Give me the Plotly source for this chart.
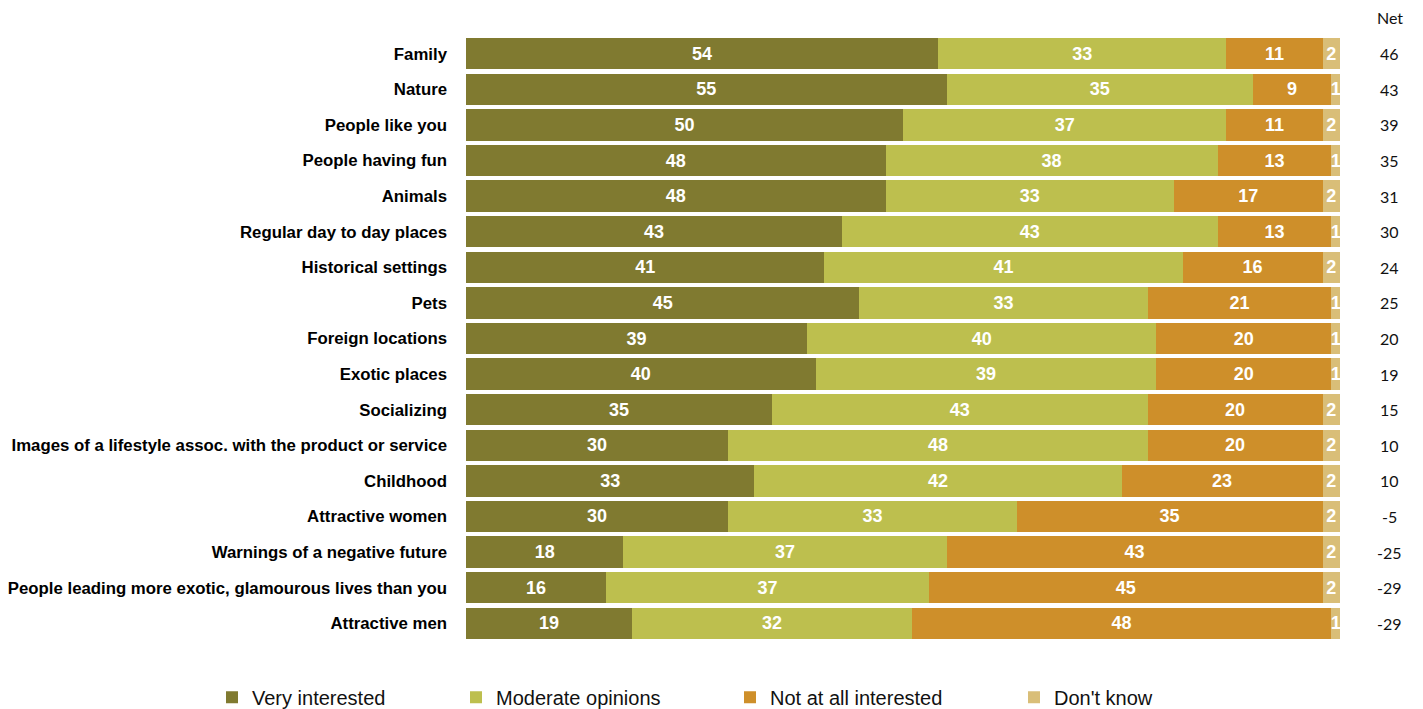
import plotly.graph_objects as go

# Survey results: interest in advertising imagery themes (%)
categories = [
    "Family", "Nature", "People like you", "People having fun", "Animals",
    "Regular day to day places", "Historical settings", "Pets",
    "Foreign locations", "Exotic places", "Socializing",
    "Images of a lifestyle assoc. with the product or service", "Childhood",
    "Attractive women", "Warnings of a negative future",
    "People leading more exotic, glamourous lives than you", "Attractive men",
]
very_interested = [54, 55, 50, 48, 48, 43, 41, 45, 39, 40, 35, 30, 33, 30, 18, 16, 19]
moderate = [33, 35, 37, 38, 33, 43, 41, 33, 40, 39, 43, 48, 42, 33, 37, 37, 32]
not_interested = [11, 9, 11, 13, 17, 13, 16, 21, 20, 20, 20, 20, 23, 35, 43, 45, 48]
dont_know = [2, 1, 2, 1, 2, 1, 2, 1, 1, 1, 2, 2, 2, 2, 2, 2, 1]
net = [46, 43, 39, 35, 31, 30, 24, 25, 20, 19, 15, 10, 10, -5, -25, -29, -29]

series = [
    ("Very interested", very_interested, "#807A30", "legend"),
    ("Moderate opinions", moderate, "#BDBF4E", "legend2"),
    ("Not at all interested", not_interested, "#CE8F2A", "legend3"),
    ("Don't know", dont_know, "#D9BE78", "legend4"),
]

fig = go.Figure()
for name, vals, color, leg in series:
    fig.add_trace(go.Bar(
        y=categories, x=vals, name=name, orientation="h",
        marker=dict(color=color, line=dict(width=0)),
        text=[str(v) for v in vals], textposition="inside",
        insidetextanchor="middle", constraintext="none",
        textfont=dict(family="Liberation Sans, Arial, sans-serif", size=18,
                      color="white", weight="bold"),
        legend=leg,
    ))

# Net column on the right
for cat, n in zip(categories, net):
    fig.add_annotation(x=1.057, xref="paper", y=cat, yref="y", text=str(n),
                       showarrow=False, xanchor="center",
                       font=dict(family="Lato, sans-serif", size=16, color="#111"))
fig.add_annotation(x=1.057, xref="paper", y=1.03, yref="paper", text="Net",
                   showarrow=False, xanchor="center", yanchor="middle",
                   font=dict(family="Lato, sans-serif", size=16, color="#111"))

legend_font = dict(family="Liberation Sans Narrow, Arial Narrow, Liberation Sans, sans-serif",
                   size=20, color="#111")
legend_x = [222, 466, 740, 1024]
layout_legends = {}
for lx, key in zip(legend_x, ["legend", "legend2", "legend3", "legend4"]):
    layout_legends[key] = dict(
        x=(lx - 466 - 10) / 874, xref="paper", xanchor="left",
        y=-0.093, yref="paper", yanchor="middle",
        orientation="h", font=legend_font, bgcolor="rgba(0,0,0,0)",
        itemsizing="constant", tracegroupgap=0,
    )

fig.update_layout(
    width=1423, height=709,
    margin=dict(l=466, r=83, t=36, b=68, autoexpand=False),
    paper_bgcolor="white", plot_bgcolor="white",
    barmode="stack", bargap=0.12,
    uniformtext=dict(minsize=18, mode="show"),
    xaxis=dict(range=[0, 100], visible=False, fixedrange=True, automargin=False),
    yaxis=dict(autorange="reversed", showgrid=False, showline=False,
               ticks="", ticklabelstandoff=18, automargin=False,
               tickfont=dict(family="Liberation Sans, Arial, sans-serif", size=16.8,
                             color="#000", weight="bold")),
    showlegend=True,
    **layout_legends,
)

fig.write_html("out.html")
